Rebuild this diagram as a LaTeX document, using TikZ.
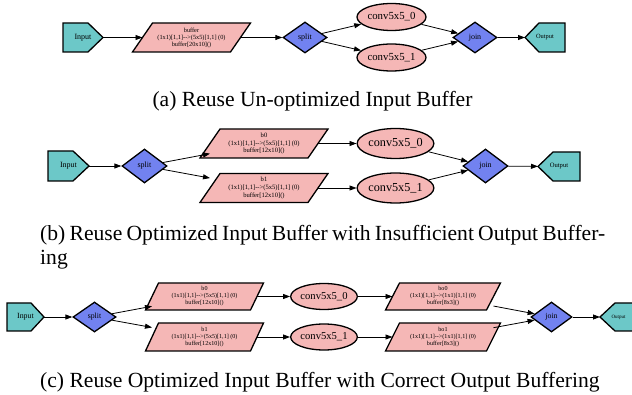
\documentclass[tikz,border=0pt]{standalone}
\usepackage{fontspec}
\setmainfont{Liberation Serif}
\newfontfamily\gv{Liberation Serif}
\usetikzlibrary{shapes.geometric,arrows.meta}

\definecolor{ioFill}{RGB}{108,200,200}
\definecolor{opFill}{RGB}{114,130,240}
\definecolor{bufFill}{RGB}{245,183,182}

\tikzset{
  shp/.style={draw=black, line width=1.3pt},
  edge/.style={draw=black, line width=0.8pt, -{Triangle[length=7pt,width=5pt]}},
  lbl/.style={inner sep=0pt, outer sep=0pt, draw=none, font=\gv},
  opnode/.style={diamond, shp, fill=opFill, inner sep=0pt, font=\gv\fontsize{8}{9}\selectfont},
  convnode/.style={ellipse, shp, fill=bufFill, inner sep=0pt},
  captext/.style={inner sep=0pt, font=\fontsize{21.6}{24}\selectfont},
}

% pentagon pointing east: name, cx, cy, width, height, tip length, node options, text
\newcommand\ioright[8]{%
  \draw[shp, fill=ioFill] (#2-#4/2,#3-#5/2) -- (#2+#4/2-#6,#3-#5/2) -- (#2+#4/2,#3)
     -- (#2+#4/2-#6,#3+#5/2) -- (#2-#4/2,#3+#5/2) -- cycle;
  \node[lbl, minimum width=#4pt, minimum height=#5pt, #7] (#1) at (#2,#3) {#8};}
% pentagon pointing west
\newcommand\ioleft[8]{%
  \draw[shp, fill=ioFill] (#2+#4/2,#3-#5/2) -- (#2-#4/2+#6,#3-#5/2) -- (#2-#4/2,#3)
     -- (#2-#4/2+#6,#3+#5/2) -- (#2+#4/2,#3+#5/2) -- cycle;
  \node[lbl, minimum width=#4pt, minimum height=#5pt, #7] (#1) at (#2,#3) {#8};}
% parallelogram leaning right: name, cx, cy, width at mid height, height, slant, node options, text
\newcommand\slantbox[8]{%
  \draw[shp, fill=bufFill] (#2-#4/2-#6/2,#3+#5/2) -- (#2-#4/2+#6/2,#3-#5/2)
     -- (#2+#4/2+#6/2,#3-#5/2) -- (#2+#4/2-#6/2,#3+#5/2) -- cycle;
  \node[lbl, minimum width=#4pt, minimum height=#5pt, align=center, #7] (#1) at (#2,#3) {#8};}

\begin{document}
\begin{tikzpicture}[x=1pt, y=-1pt]
\clip (0,0) rectangle (632,395);

% ---------- (a) ----------
\ioright{inA}{83}{37.5}{40}{29}{15}{font=\gv\fontsize{8}{9}\selectfont}{Input}
\slantbox{bufA}{191.5}{37.5}{98}{29}{20}{font=\gv\fontsize{6.3}{7}\selectfont}
  {buffer\\(1x1)[1,1]-->(5x5)[1,1] (0)\\buffer[20x10]()}
\node[opnode, minimum width=44pt, minimum height=31pt] (splitA) at (305,37.5) {split};
\node[convnode, minimum width=69pt, minimum height=27pt, font=\gv\fontsize{10.8}{12}\selectfont] (c0A) at (391.5,17) {conv5x5\_0};
\node[convnode, minimum width=69pt, minimum height=27pt, font=\gv\fontsize{10.8}{12}\selectfont] (c1A) at (391.5,57.5) {conv5x5\_1};
\node[opnode, minimum width=44pt, minimum height=31pt] (joinA) at (475,37.5) {join};
\ioleft{outA}{545}{37.5}{40}{29}{14}{font=\gv\fontsize{6.4}{7}\selectfont}{Output}

\draw[edge] (inA) -- (bufA);
\draw[edge] (bufA) -- (splitA);
\draw[edge] (splitA) -- (c0A);
\draw[edge] (splitA) -- (c1A);
\draw[edge] (c0A) -- (joinA);
\draw[edge] (c1A) -- (joinA);
\draw[edge] (joinA) -- (outA);

\node[captext, anchor=base] (capA) at (312.5,107) {(a) Reuse Un-optimized Input Buffer};

% ---------- (b) ----------
\ioright{inB}{68.5}{166}{41}{30}{16}{font=\gv\fontsize{8}{9}\selectfont}{Input}
\node[opnode, minimum width=45pt, minimum height=34pt] (splitB) at (144.5,166) {split};
\slantbox{b0B}{264}{143.5}{108}{29}{20}{font=\gv\fontsize{6.6}{7.6}\selectfont}
  {b0\\(1x1)[1,1]-->(5x5)[1,1] (0)\\buffer[12x10]()}
\slantbox{b1B}{264}{188}{108}{29}{20}{font=\gv\fontsize{6.6}{7.6}\selectfont}
  {b1\\(1x1)[1,1]-->(5x5)[1,1] (0)\\buffer[12x10]()}
\node[convnode, minimum width=73pt, minimum height=30pt, font=\gv\fontsize{12.2}{13}\selectfont] (c0B) at (395.5,143.5) {conv5x5\_0};
\node[convnode, minimum width=73pt, minimum height=30pt, font=\gv\fontsize{12.2}{13}\selectfont] (c1B) at (395.5,188) {conv5x5\_1};
\node[opnode, minimum width=45pt, minimum height=34pt] (joinB) at (485.5,166) {join};
\ioleft{outB}{559}{166.5}{42}{29}{15}{font=\gv\fontsize{6.6}{7}\selectfont}{Output}

\draw[edge] (inB) -- (splitB);
\draw[edge] (splitB) -- (b0B);
\draw[edge] (splitB) -- (b1B);
\draw[edge] (b0B) -- (c0B);
\draw[edge] (b1B) -- (c1B);
\draw[edge] (c0B) -- (joinB);
\draw[edge] (c1B) -- (joinB);
\draw[edge] (joinB) -- (outB);

\node[captext, anchor=base west] (capB1) at (40,241)
  {\makebox[565pt][s]{(b) Reuse Optimized Input Buffer with Insufficient Output Buffer-}};
\node[captext, anchor=base west] (capB2) at (40,265) {ing};

% ---------- (c) ----------
\ioright{inC}{25.5}{317}{37}{28}{13}{font=\gv\fontsize{7.9}{9}\selectfont}{Input}
\node[opnode, minimum width=43pt, minimum height=30pt, font=\gv\fontsize{7.8}{9}\selectfont] (splitC) at (94.5,317) {split};
\slantbox{b0C}{204.5}{296.5}{105}{27}{13}{font=\gv\fontsize{6.1}{7}\selectfont}
  {b0\\(1x1)[1,1]-->(5x5)[1,1] (0)\\buffer[12x10]()}
\slantbox{b1C}{204.5}{337}{105}{28}{13}{font=\gv\fontsize{6.1}{7}\selectfont}
  {b1\\(1x1)[1,1]-->(5x5)[1,1] (0)\\buffer[12x10]()}
\node[convnode, minimum width=66pt, minimum height=26pt, font=\gv\fontsize{10.6}{12}\selectfont] (c0C) at (324,296.5) {conv5x5\_0};
\node[convnode, minimum width=66pt, minimum height=26pt, font=\gv\fontsize{10.6}{12}\selectfont] (c1C) at (324,337) {conv5x5\_1};
\slantbox{o0C}{443}{296.5}{101}{27}{14}{font=\gv\fontsize{6.1}{7}\selectfont}
  {bo0\\(1x1)[1,1]-->(1x1)[1,1] (0)\\buffer[8x3]()}
\slantbox{o1C}{443}{337}{101}{28}{14}{font=\gv\fontsize{6.1}{7}\selectfont}
  {bo1\\(1x1)[1,1]-->(1x1)[1,1] (0)\\buffer[8x3]()}
\node[opnode, minimum width=41pt, minimum height=30pt, font=\gv\fontsize{7.8}{9}\selectfont] (joinC) at (551.5,317) {join};
\ioleft{outC}{618.5}{317}{37}{28}{15}{font=\gv\fontsize{5}{6}\selectfont}{Output}

\draw[edge] (inC) -- (splitC);
\draw[edge] (splitC) -- (b0C);
\draw[edge] (splitC) -- (b1C);
\draw[edge] (b0C) -- (c0C);
\draw[edge] (b1C) -- (c1C);
\draw[edge] (c0C) -- (o0C);
\draw[edge] (c1C) -- (o1C);
\draw[edge] (o0C) -- (joinC);
\draw[edge] (o1C) -- (joinC);
\draw[edge] (joinC) -- (outC);

\node[captext, anchor=base west] (capC) at (40,387) {(c) Reuse Optimized Input Buffer with Correct Output Buffering};
\end{tikzpicture}
\end{document}
